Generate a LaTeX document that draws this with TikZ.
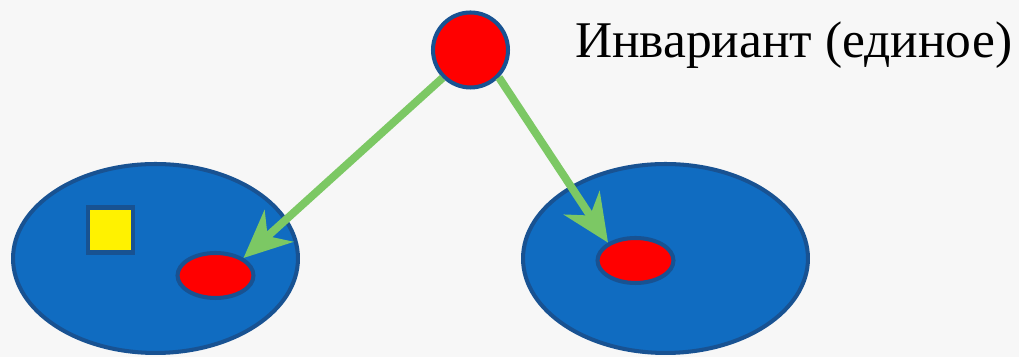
\documentclass[tikz,border=0pt]{standalone}
\usepackage{fontspec}
\setmainfont{Liberation Serif}
\usepackage{tikz}
\usetikzlibrary{shapes.geometric,arrows.meta}

\definecolor{setblue}{RGB}{16,108,193}
\definecolor{edgeblue}{RGB}{24,82,146}
\definecolor{linkgreen}{RGB}{124,200,100}
\definecolor{paper}{RGB}{247,247,247}

\begin{document}
\begin{tikzpicture}[x=0.02cm, y=0.02cm,
    every node/.style={draw=edgeblue, line width=2.3pt, inner sep=0pt},
    bigset/.style={ellipse, fill=setblue, minimum width=5.7cm, minimum height=3.78cm},
    inv/.style={ellipse, fill=red, minimum width=1.52cm, minimum height=0.9cm},
    link/.style={draw=linkgreen, line width=4.5pt,
        -{Stealth[length=0.95cm, width=0.85cm, inset=0.3cm]}}]

    % Background
    \fill[paper] (0,0) rectangle (1019,357);
    \useasboundingbox (0,0) rectangle (1019,357);

    % Left set
    \node[bigset] (lset) at (155.5,98.5) {};
    \node[fill=yellow, minimum size=0.9cm] (sq) at (110.5,127) {};
    \node[inv] (linv) at (215.5,81.5) {};

    % Right set
    \node[bigset] (rset) at (665.5,98.5) {};
    \node[inv] (rinv) at (635.5,96.5) {};

    % Invariant
    \node[circle, fill=red, minimum size=1.5cm] (top) at (470.5,307) {};
    \node[draw=none, anchor=base west, font=\fontsize{29.3}{35}\selectfont]
        (label) at (573,299) {Инвариант (единое)};

    % Links
    \draw[link] (top.-135.5) -- (linv.32.5);
    \draw[link] (top.-44.5) -- (rinv.147.5);
\end{tikzpicture}
\end{document}
